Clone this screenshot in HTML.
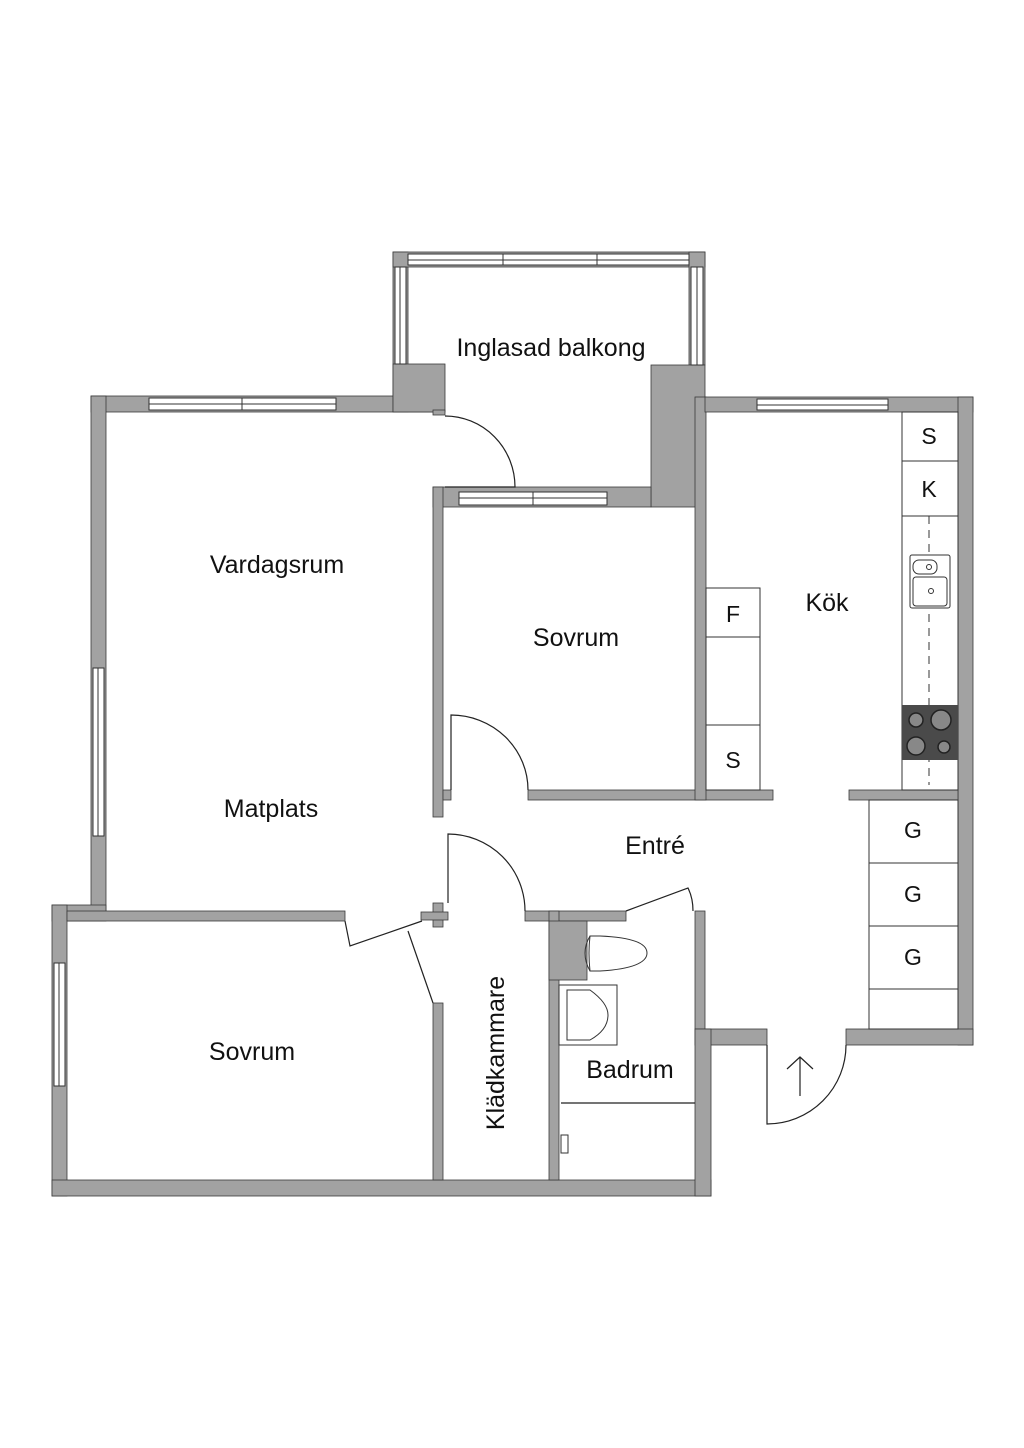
<!DOCTYPE html>
<html><head><meta charset="utf-8"><style>
html,body{margin:0;padding:0;background:#fff;}
svg{display:block;}
text{font-family:"Liberation Sans",sans-serif;font-size:25px;fill:#111;}
text.s{font-size:23px;}
</style></head><body>
<svg width="1024" height="1448" viewBox="0 0 1024 1448" xmlns="http://www.w3.org/2000/svg">
<g fill="#a2a2a2" stroke="#3a3a3a" stroke-width="0.8">
<rect x="91" y="396" width="342" height="16"/>
<rect x="91" y="396" width="15" height="515"/>
<rect x="52" y="905" width="54" height="16"/>
<rect x="52" y="905" width="15" height="291"/>
<rect x="52" y="1180" width="659" height="16"/>
<rect x="67" y="911" width="278" height="10"/>
<rect x="393" y="252" width="15" height="160"/>
<rect x="393" y="252" width="312" height="15"/>
<rect x="689" y="252" width="16" height="113"/>
<rect x="393" y="364" width="52" height="48"/>
<rect x="433" y="410" width="12" height="5"/>
<rect x="651" y="365" width="54" height="142"/>
<rect x="433" y="487" width="218" height="20"/>
<rect x="433" y="487" width="10" height="330"/>
<rect x="443" y="790" width="8" height="10"/>
<rect x="528" y="790" width="245" height="10"/>
<rect x="695" y="397" width="11" height="403"/>
<rect x="705" y="397" width="268" height="15"/>
<rect x="958" y="397" width="15" height="648"/>
<rect x="849" y="790" width="109" height="10"/>
<rect x="846" y="1029" width="127" height="16"/>
<rect x="695" y="1029" width="72" height="16"/>
<rect x="695" y="911" width="10" height="118"/>
<rect x="695" y="1029" width="16" height="167"/>
<rect x="525" y="911" width="101" height="10"/>
<rect x="549" y="911" width="10" height="269"/>
<rect x="549" y="921" width="38" height="59"/>
<rect x="433" y="1003" width="10" height="177"/>
<rect x="433" y="903" width="10" height="24"/>
<rect x="421" y="912" width="27" height="8"/>
</g>
<g fill="#fff" stroke="#333" stroke-width="1">
<rect x="149" y="398" width="187" height="12"/><line x1="149" y1="404" x2="336" y2="404"/><line x1="242" y1="398" x2="242" y2="410"/>
<rect x="93" y="668" width="11" height="168"/><line x1="98" y1="668" x2="98" y2="836"/>
<rect x="54" y="963" width="11" height="123"/><line x1="59" y1="963" x2="59" y2="1086"/>
<rect x="408" y="254" width="281" height="11"/><line x1="408" y1="260" x2="689" y2="260"/><line x1="503" y1="254" x2="503" y2="265"/><line x1="597" y1="254" x2="597" y2="265"/>
<rect x="395" y="267" width="11" height="97"/><line x1="400" y1="267" x2="400" y2="364"/>
<rect x="691" y="267" width="12" height="98"/><line x1="697" y1="267" x2="697" y2="365"/>
<rect x="459" y="492" width="148" height="13"/><line x1="459" y1="498" x2="607" y2="498"/><line x1="533" y1="492" x2="533" y2="505"/>
<rect x="757" y="399" width="131" height="11"/><line x1="757" y1="405" x2="888" y2="405"/>
</g>
<g fill="none" stroke="#222" stroke-width="1.2">
<path d="M445 416 A70 71 0 0 1 515 487 L445 487"/>
<path d="M451 790 L451 715 A77 75 0 0 1 528 790"/>
<path d="M448 903 L448 834 A77 77 0 0 1 525 911"/>
<path d="M345 921 L350 946 L422 921"/>
<path d="M408 931 L433 1003"/>
<path d="M626 911 L688 888 Q693 898 693 911"/>
<path d="M767 1045 L767 1124 A79 79 0 0 0 846 1045"/>
<path d="M800 1096 L800 1057 M787 1069 L800 1057 L813 1069"/>
<line x1="561" y1="1103" x2="695" y2="1103"/>
</g>
<g fill="none" stroke="#333" stroke-width="1">
<rect x="706" y="588" width="54" height="202"/><line x1="706" y1="637" x2="760" y2="637"/><line x1="706" y1="725" x2="760" y2="725"/>
<rect x="902" y="412" width="56" height="378"/><line x1="902" y1="461" x2="958" y2="461"/><line x1="902" y1="516" x2="958" y2="516"/>
<line x1="929" y1="516" x2="929" y2="785" stroke-dasharray="8,6"/>
<rect x="910" y="555" width="40" height="53" rx="2" fill="#fff"/>
<rect x="913" y="560" width="24" height="14" rx="6"/>
<rect x="913" y="577" width="34" height="29" rx="3"/>
<circle cx="929" cy="567" r="2.5"/><circle cx="931" cy="591" r="2.5"/>
<rect x="869" y="800" width="89" height="229"/><line x1="869" y1="863" x2="958" y2="863"/><line x1="869" y1="926" x2="958" y2="926"/><line x1="869" y1="989" x2="958" y2="989"/>
<rect x="559" y="985" width="58" height="60"/>
<path d="M567 990 L590 990 Q608 1003 608 1015 Q608 1030 590 1040 L567 1040 Z"/>
<path d="M590 936 Q588 953 590 971 L600 971 Q647 968 647 953 Q647 938 600 936 Z"/>
<path d="M590 936 Q580 953 590 971"/>
<rect x="561" y="1135" width="7" height="18"/>
</g>
<rect x="902" y="705" width="56" height="55" fill="#4a4a4a"/>
<g fill="#888" stroke="#222" stroke-width="1.5">
<circle cx="916" cy="720" r="7"/><circle cx="941" cy="720" r="10"/><circle cx="916" cy="746" r="9"/><circle cx="944" cy="747" r="6"/>
</g>
<text x="551" y="356" text-anchor="middle">Inglasad balkong</text>
<text x="277" y="573" text-anchor="middle">Vardagsrum</text>
<text x="576" y="646" text-anchor="middle">Sovrum</text>
<text x="271" y="817" text-anchor="middle">Matplats</text>
<text x="827" y="611" text-anchor="middle">Kök</text>
<text x="655" y="854" text-anchor="middle">Entré</text>
<text x="252" y="1060" text-anchor="middle">Sovrum</text>
<text x="630" y="1078" text-anchor="middle">Badrum</text>
<text x="0" y="0" text-anchor="middle" transform="translate(504,1053) rotate(-90)">Klädkammare</text>
<text class="s" x="929" y="444" text-anchor="middle">S</text>
<text class="s" x="929" y="497" text-anchor="middle">K</text>
<text class="s" x="733" y="622" text-anchor="middle">F</text>
<text class="s" x="733" y="768" text-anchor="middle">S</text>
<text class="s" x="913" y="838" text-anchor="middle">G</text>
<text class="s" x="913" y="902" text-anchor="middle">G</text>
<text class="s" x="913" y="965" text-anchor="middle">G</text>
</svg>
</body></html>
